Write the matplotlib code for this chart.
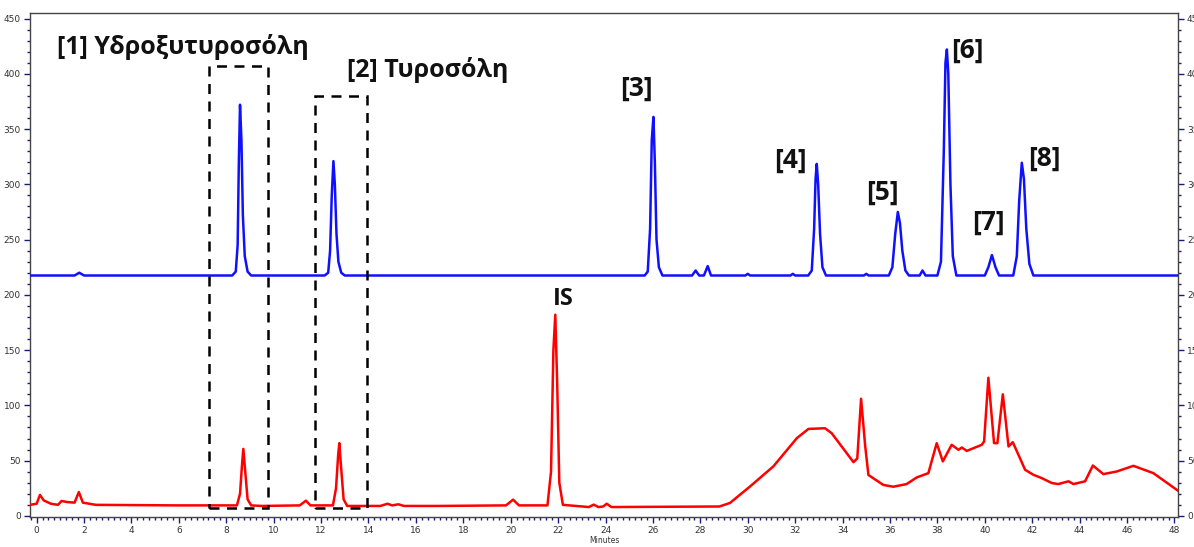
import matplotlib.pyplot as plt
from matplotlib.patches import Rectangle
from matplotlib.ticker import MultipleLocator

# blue trace (offset standards chromatogram)
blue_t = [-0.28, 1.6, 1.8, 2.0, 8.25, 8.4, 8.48, 8.53, 8.58, 8.64, 8.7, 8.78, 8.9, 9.05,
          12.15, 12.3, 12.38, 12.45, 12.52, 12.58, 12.65, 12.73, 12.85, 13.0,
          25.65, 25.78, 25.88, 25.95, 26.02, 26.08, 26.15, 26.25, 26.4,
          27.65, 27.8, 27.95, 28.15, 28.31, 28.45, 29.9, 30.0, 30.1, 31.8, 31.9, 32.0,
          32.55, 32.7, 32.8, 32.86, 32.91, 32.97, 33.05, 33.15, 33.3,
          34.9, 35.0, 35.1, 35.95, 36.1, 36.22, 36.33, 36.42, 36.52, 36.65, 36.8,
          37.25, 37.37, 37.5, 38.0, 38.15, 38.27, 38.34, 38.4, 38.46, 38.55, 38.65, 38.8,
          40.0, 40.15, 40.3, 40.45, 40.6, 41.2, 41.35, 41.45, 41.56, 41.65, 41.75, 41.88, 42.05,
          48.15]
blue_v = [217.5, 217.5, 220, 217.5, 217.5, 221, 245, 320, 372, 340, 272, 235, 221, 217.5,
          217.5, 220, 240, 290, 321, 300, 255, 230, 220, 217.5,
          217.5, 221, 260, 340, 361, 320, 250, 225, 217.5,
          217.5, 222, 217.5, 217.5, 226, 217.5, 217.5, 219, 217.5, 217.5, 219, 217.5,
          217.5, 222, 260, 305, 318.5, 300, 255, 225, 217.5,
          217.5, 219, 217.5, 217.5, 225, 255, 275, 265, 240, 222, 217.5,
          217.5, 222, 217.5, 217.5, 230, 330, 410, 422, 400, 300, 235, 217.5,
          217.5, 225, 236, 225, 217.5, 217.5, 235, 285, 319.5, 305, 260, 228, 217.5,
          217.5]

# red trace (sample chromatogram)
red_t = [-0.28, 0.0, 0.14, 0.3, 0.6, 0.9, 1.05, 1.3, 1.6, 1.78, 1.95, 2.5, 6.0, 8.45, 8.58, 8.66,
         8.72, 8.8, 8.9, 9.05, 9.5, 11.1, 11.36, 11.55, 12.5, 12.63, 12.72, 12.77, 12.84, 12.95,
         13.1, 14.5, 14.8, 15.0, 15.26, 15.5, 16.9, 19.8, 20.1, 20.35, 21.55, 21.7, 21.8, 21.88,
         21.96, 22.05, 22.2, 23.3, 23.5, 23.7, 23.9, 24.05, 24.25, 25.9, 28.8, 29.25, 30.1, 31.08,
         32.07, 32.56, 33.26, 33.54, 34.46, 34.62, 34.78, 34.95, 35.09, 35.72, 36.14, 36.7, 37.13,
         37.62, 37.97, 38.23, 38.6, 38.89, 39.03, 39.24, 39.87, 39.97, 40.15, 40.39, 40.53, 40.76,
         41.0, 41.18, 41.42, 41.7, 42.05, 42.4, 42.83, 43.1, 43.53, 43.74, 44.23, 44.56, 45.0,
         45.57, 46.27, 47.11, 48.15]
red_v = [10, 11, 19, 14, 11, 10, 13.5, 12.5, 12, 21.6, 12, 10, 9.5, 9.5, 20, 45,
         60.6, 40, 15, 9.5, 9, 9.5, 13.8, 9.5, 9.5, 25, 55, 65.8, 45, 15,
         9, 9, 11, 9.5, 10.5, 9, 9, 9.5, 14.7, 9.5, 9.5, 40, 150, 182,
         120, 30, 10, 8, 10.2, 8, 8.5, 11, 8, 8.2, 8.5, 11.7, 26.7, 44.8,
         70.3, 78.7, 79.3, 74.8, 48.6, 52, 106, 64, 37, 28, 26.4, 28.8, 34.8,
         38.7, 65.8, 49.3, 64.3, 59.8, 61.9, 58.8, 64.3, 67.3, 125, 65.8, 65.8, 110,
         62.8, 66.7, 55.2, 41.7, 37.2, 34.2, 29.7, 28.8, 31.3, 28.8, 31.3, 45.6, 37.8,
         40.2, 45.3, 38.7, 22.8]

# peak labels
label_text = ["[1] Υδροξυτυροσόλη", "[2] Τυροσόλη", "[3]", "[4]", "[5]", "[6]", "[7]", "[8]", "IS"]
label_t = [0.86, 13.1, 25.3, 31.8, 35.7, 39.25, 40.15, 42.5, 22.2]
label_v = [424, 403, 387, 322, 293, 421, 266, 324, 196]
label_ha = ["left", "left", "center", "center", "center", "center", "center", "center", "center"]
label_size = [18, 18, 19, 19, 19, 19, 19, 19, 17]

# dashed boxes around peaks 1 and 2: (t0, t1, v0, v1)
box_t0 = [7.27, 11.75]
box_t1 = [9.76, 13.92]
box_v0 = [7.2, 7.2]
box_v1 = [407.5, 379.5]

fig = plt.figure(figsize=(11.94, 5.47), dpi=100)
ax = fig.add_axes([30 / 1194, 30 / 547, 1148 / 1194, 504 / 547])

ax.plot(blue_t, blue_v, color="#1010ff", lw=1.8, zorder=3)
ax.plot(red_t, red_v, color="#ff0000", lw=1.8, zorder=3)

for t0, t1, v0, v1 in zip(box_t0, box_t1, box_v0, box_v1):
    ax.add_patch(Rectangle((t0, v0), t1 - t0, v1 - v0, fill=False, ec="black",
                           lw=1.8, ls=(0, (4, 3)), zorder=4))

for txt, t, v, ha, fs in zip(label_text, label_t, label_v, label_ha, label_size):
    ax.text(t, v, txt, ha=ha, va="center", fontsize=fs, fontweight="bold",
            family=["Open Sans", "DejaVu Sans"], color="#111111")

ax.set_xlim(-0.28, 48.15)
ax.set_ylim(-1, 455)
ax.xaxis.set_major_locator(MultipleLocator(2))
ax.xaxis.set_minor_locator(MultipleLocator(0.25))
ax.yaxis.set_major_locator(MultipleLocator(50))
ax.yaxis.set_minor_locator(MultipleLocator(10))
ax.tick_params(which="both", direction="out", color="#1a1a80", labelsize=6.5,
               labelcolor="#333333", right=True, labelright=True)
ax.tick_params(which="major", length=4, width=1, pad=2.5)
ax.tick_params(which="minor", length=2, width=1)
for s in ax.spines.values():
    s.set_color("#444444")
    s.set_linewidth(1)
ax.set_xlabel("Minutes", fontsize=5.5, color="#333333", labelpad=1)

fig.savefig("out.png", dpi=100)
